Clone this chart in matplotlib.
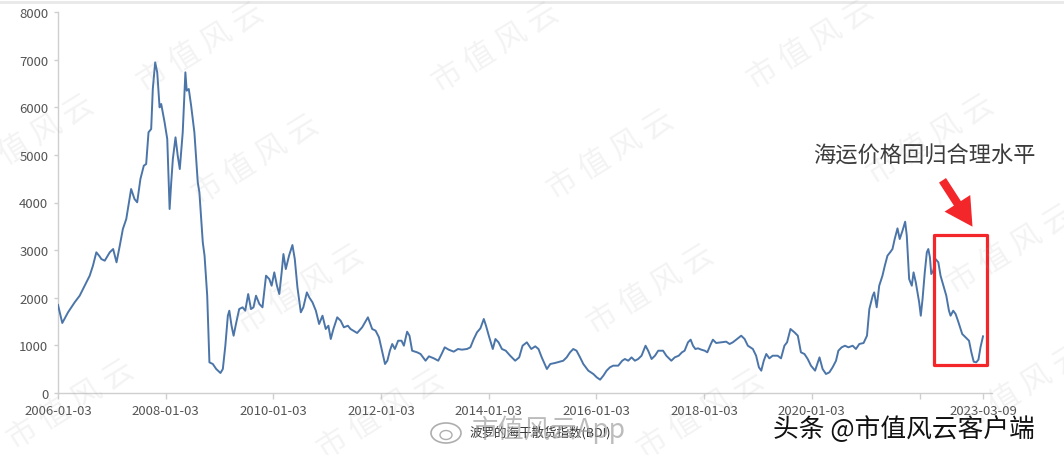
import numpy as np
import pandas as pd
import matplotlib
matplotlib.use('Agg')
import matplotlib.pyplot as plt
import matplotlib.dates as mdates
from matplotlib.patches import FancyArrowPatch, Rectangle, Ellipse

plt.rcParams['font.family'] = ['Noto Sans CJK SC', 'DejaVu Sans']

# BDI readings
dates = [
    '2006-01-03', '2006-02-01', '2006-03-12', '2006-04-26', '2006-05-30', '2006-07-03',
    '2006-08-06', '2006-08-28', '2006-09-20', '2006-10-12', '2006-10-24', '2006-11-16',
    '2006-12-20', '2007-01-12', '2007-02-04', '2007-02-26', '2007-03-19', '2007-04-11',
    '2007-04-26', '2007-05-14', '2007-06-06', '2007-06-24', '2007-07-16', '2007-08-08',
    '2007-08-24', '2007-09-09', '2007-09-27', '2007-10-08', '2007-10-24', '2007-11-07',
    '2007-11-23', '2007-12-04', '2007-12-27', '2008-01-14', '2008-01-30', '2008-02-10',
    '2008-02-21', '2008-03-10', '2008-03-25', '2008-04-08', '2008-04-28', '2008-05-16',
    '2008-05-25', '2008-06-08', '2008-06-24', '2008-07-16', '2008-08-08', '2008-08-19',
    '2008-09-11', '2008-09-23', '2008-10-11', '2008-10-26', '2008-11-18', '2008-12-11',
    '2009-01-09', '2009-01-25', '2009-02-11', '2009-02-28', '2009-03-10', '2009-03-25',
    '2009-04-08', '2009-04-24', '2009-05-16', '2009-06-08', '2009-06-26', '2009-07-16',
    '2009-08-04', '2009-08-21', '2009-09-07', '2009-09-30', '2009-10-21', '2009-11-14',
    '2009-12-06', '2009-12-22', '2010-01-09', '2010-01-27', '2010-02-12', '2010-02-28',
    '2010-03-12', '2010-03-28', '2010-04-19', '2010-05-12', '2010-05-28', '2010-06-15',
    '2010-07-08', '2010-07-25', '2010-08-18', '2010-09-03', '2010-09-25', '2010-10-18',
    '2010-11-09', '2010-12-02', '2010-12-24', '2011-01-11', '2011-01-27', '2011-02-14',
    '2011-03-12', '2011-04-04', '2011-04-26', '2011-05-23', '2011-06-10', '2011-07-25',
    '2011-08-28', '2011-10-06', '2011-11-04', '2011-11-27', '2011-12-20', '2012-01-12',
    '2012-01-30', '2012-02-15', '2012-03-03', '2012-03-19', '2012-04-06', '2012-04-28',
    '2012-05-21', '2012-06-06', '2012-06-28', '2012-07-14', '2012-08-01', '2012-09-04',
    '2012-09-27', '2012-10-31', '2012-11-23', '2012-12-26', '2013-01-25', '2013-02-17',
    '2013-03-10', '2013-04-06', '2013-05-10', '2013-06-08', '2013-07-05', '2013-08-08',
    '2013-08-31', '2013-09-23', '2013-10-15', '2013-11-07', '2013-11-30', '2013-12-15',
    '2014-01-03', '2014-01-30', '2014-02-17', '2014-03-10', '2014-04-02', '2014-04-28',
    '2014-05-28', '2014-07-01', '2014-07-28', '2014-08-20', '2014-09-18', '2014-10-18',
    '2014-11-14', '2014-12-06', '2014-12-28', '2015-02-01', '2015-02-24', '2015-03-28',
    '2015-05-23', '2015-06-15', '2015-07-08', '2015-07-30', '2015-08-21', '2015-09-14',
    '2015-10-06', '2015-11-09', '2015-12-13', '2016-01-05', '2016-01-28', '2016-02-19',
    '2016-03-12', '2016-04-04', '2016-04-26', '2016-05-30', '2016-06-26', '2016-07-14',
    '2016-08-06', '2016-08-28', '2016-09-20', '2016-10-12', '2016-11-04', '2016-12-01',
    '2016-12-19', '2017-01-11', '2017-02-03', '2017-02-25', '2017-03-30', '2017-04-21',
    '2017-05-25', '2017-06-17', '2017-07-14', '2017-08-05', '2017-08-23', '2017-09-15',
    '2017-10-03', '2017-10-19', '2017-11-04', '2017-11-22', '2017-12-14', '2018-01-07',
    '2018-01-24', '2018-02-17', '2018-03-03', '2018-03-25', '2018-04-28', '2018-06-01',
    '2018-06-24', '2018-07-16', '2018-08-08', '2018-09-11', '2018-10-04', '2018-10-26',
    '2018-11-29', '2018-12-21', '2019-01-09', '2019-01-25', '2019-02-11', '2019-02-28',
    '2019-03-21', '2019-04-12', '2019-05-16', '2019-06-08', '2019-07-01', '2019-07-19',
    '2019-08-11', '2019-09-07', '2019-09-30', '2019-10-21', '2019-11-14', '2019-12-06',
    '2019-12-28', '2020-01-25', '2020-02-24', '2020-03-16', '2020-04-08', '2020-05-01',
    '2020-05-23', '2020-06-15', '2020-07-01', '2020-07-23', '2020-08-15', '2020-09-07',
    '2020-10-06', '2020-10-28', '2020-11-20', '2020-12-19', '2021-01-11', '2021-01-27',
    '2021-02-19', '2021-03-01', '2021-03-18', '2021-04-04', '2021-04-26', '2021-05-12',
    '2021-05-30', '2021-06-17', '2021-07-03', '2021-07-18', '2021-08-06', '2021-08-21',
    '2021-09-09', '2021-09-27', '2021-10-08', '2021-10-24', '2021-11-11', '2021-11-23',
    '2021-12-08', '2021-12-31', '2022-01-11', '2022-01-23', '2022-02-07', '2022-02-21',
    '2022-03-03', '2022-03-14', '2022-03-23', '2022-04-06', '2022-04-21', '2022-05-10',
    '2022-05-25', '2022-06-17', '2022-07-03', '2022-07-21', '2022-08-01', '2022-08-19',
    '2022-09-04', '2022-09-20', '2022-10-19', '2022-11-11', '2022-12-04', '2022-12-20',
    '2023-01-05', '2023-01-22', '2023-02-06', '2023-02-20', '2023-03-09',
]
bdi = [
    1850, 1470, 1694, 1904, 2043, 2253,
    2463, 2673, 2954, 2870, 2813, 2778,
    2954, 3023, 2744, 3093, 3443, 3653,
    3933, 4283, 4073, 4004, 4493, 4773,
    4808, 5474, 5543, 6383, 6943, 6733,
    5998, 6068, 5683, 5333, 3863, 4424,
    4913, 5368, 4983, 4703, 5474, 6733,
    6348, 6383, 6033, 5474, 4424, 4214,
    3163, 2883, 2043, 644, 609, 504,
    420, 504, 993, 1623, 1728, 1413,
    1203, 1449, 1763, 1799, 1728, 2078,
    1763, 1799, 2043, 1868, 1799, 2463,
    2393, 2253, 2533, 2253, 2078, 2533,
    2918, 2603, 2883, 3107, 2813, 2218,
    1694, 1799, 2113, 2008, 1904, 1728,
    1449, 1623, 1344, 1413, 1134, 1344,
    1589, 1518, 1379, 1413, 1344, 1260,
    1379, 1589, 1344, 1309, 1169, 854,
    609, 678, 888, 1029, 924, 1098,
    1098, 993, 1287, 1203, 888, 854,
    819, 678, 770, 728, 678, 819,
    959, 910, 868, 924, 910, 924,
    959, 1134, 1274, 1358, 1554, 1413,
    1203, 924, 1134, 1064, 924, 888,
    783, 678, 748, 993, 1064, 924,
    980, 924, 748, 504, 609, 630,
    678, 748, 854, 924, 888, 748,
    609, 469, 399, 329, 280, 364,
    469, 540, 574, 574, 678, 714,
    678, 748, 678, 714, 783, 993,
    888, 714, 783, 888, 888, 783,
    678, 748, 783, 854, 888, 1064,
    1120, 993, 924, 938, 910, 888,
    854, 1029, 1120, 1050, 1064, 1078,
    1029, 1064, 1120, 1203, 1134, 993,
    924, 783, 540, 469, 678, 819,
    728, 783, 783, 728, 993, 1064,
    1344, 1274, 1203, 854, 819, 714,
    574, 469, 748, 504, 399, 434,
    540, 678, 888, 959, 993, 959,
    993, 924, 1029, 1050, 1203, 1763,
    2043, 2113, 1799, 2253, 2463, 2673,
    2883, 2954, 3023, 3233, 3457, 3233,
    3408, 3597, 3303, 2393, 2253, 2533,
    2324, 1904, 1623, 1974, 2533, 2954,
    3023, 2849, 2498, 2568, 2813, 2744,
    2463, 2218, 2043, 1728, 1623, 1728,
    1659, 1518, 1239, 1169, 1098, 854,
    657, 644, 700, 960, 1190,
]

tick_dates = ['2006-01-03', '2008-01-03', '2010-01-03', '2012-01-03', '2014-01-03',
              '2016-01-03', '2018-01-03', '2020-01-03', '2022-01-03', '2023-03-09']
tick_labels = ['2006-01-03', '2008-01-03', '2010-01-03', '2012-01-03', '2014-01-03',
               '2016-01-03', '2018-01-03', '2020-01-03', '', '2023-03-09']
y_ticks = [0, 1000, 2000, 3000, 4000, 5000, 6000, 7000, 8000]

legend_label = '波罗的海干散货指数(BDI)'
note_text = '海运价格回归合理水平'
box_x = ['2022-04-12', '2023-04-06']
box_y = [590, 3310]

W, H = 1064, 456


def px(x, y):
    return (x / W, 1 - y / H)


fig = plt.figure(figsize=(W / 100, H / 100), dpi=100)
fig.patch.set_facecolor('white')
ax = fig.add_axes([58 / W, 1 - 394 / H, (992 - 58) / W, (394 - 13) / H])

t = pd.to_datetime(dates)
ax.plot(t, bdi, color='#4b75a8', lw=1.4, solid_joinstyle='round', zorder=3)

ax.set_ylim(0, 8000)
ax.set_xlim(pd.Timestamp('2006-01-03'), pd.Timestamp('2023-05-09'))
ax.set_yticks(y_ticks)
ax.set_yticklabels([str(v) for v in y_ticks])
ax.set_xticks(pd.to_datetime(tick_dates))
ax.set_xticklabels(tick_labels)

for s in ['top', 'right']:
    ax.spines[s].set_visible(False)
for s in ['left', 'bottom']:
    ax.spines[s].set_color('#cfcfcf')
    ax.spines[s].set_linewidth(1.0)
ax.tick_params(axis='x', colors='#cfcfcf', length=4, width=1, labelcolor='#555555',
               labelsize=9.5, pad=4)
ax.tick_params(axis='y', colors='#cfcfcf', length=3, width=1, labelcolor='#555555',
               labelsize=9.5, pad=4)

# red box + arrow + note
bx0, bx1 = mdates.date2num(pd.Timestamp(box_x[0])), mdates.date2num(pd.Timestamp(box_x[1]))
ax.add_patch(Rectangle((bx0, box_y[0]), bx1 - bx0, box_y[1] - box_y[0], fill=False,
                       edgecolor='#f3262a', lw=2.3, clip_on=False, zorder=5,
                       joinstyle='round'))
arrow = FancyArrowPatch(px(941, 179), px(974, 230), transform=fig.transFigure,
                        arrowstyle='simple,head_width=2.2,head_length=2.0,tail_width=0.6',
                        mutation_scale=10, color='#f3262a', lw=0, zorder=6)
fig.add_artist(arrow)
fig.text(*px(813, 156), note_text, fontsize=16, color='#3c3c3c', ha='left', va='center')

# faint top border
fig.add_artist(plt.Line2D([0, 1], [1 - 3 / H, 1 - 3 / H], transform=fig.transFigure,
                          color='#e8e8e8', lw=2))

# legend, partly covered by the weibo mark
fig.text(*px(470, 433), legend_label, fontsize=9, color='#333333', ha='left', va='center')
fig.add_artist(Ellipse(px(446, 434), 30 / W, 20 / H, transform=fig.transFigure,
                       fill=False, edgecolor='#9a9a9a', lw=1.2, alpha=0.8))
fig.add_artist(Ellipse(px(446, 436), 12 / W, 9 / H, transform=fig.transFigure,
                       fill=False, edgecolor='#9a9a9a', lw=1.0, alpha=0.8))
fig.text(*px(472, 430), '市值风云App', fontsize=19, color='#a0a0a0', alpha=0.7,
         ha='left', va='center')

fig.text(*px(773, 430), '头条 @市值风云客户端', fontsize=18.5, color='#111111',
         ha='left', va='center')

# diagonal watermarks
marks = [(200, 48), (495, 48), (810, 45), (255, 160), (610, 155), (930, 140),
         (30, 140), (300, 290), (650, 290), (1010, 250), (70, 405), (380, 415),
         (700, 415), (1020, 390)]
for mx, my in marks:
    fig.text(*px(mx, my), '市 值 风 云', fontsize=22, color='#a0a0a0', alpha=0.12,
             rotation=32, ha='center', va='center', zorder=10)

fig.savefig('out.png', dpi=100)
